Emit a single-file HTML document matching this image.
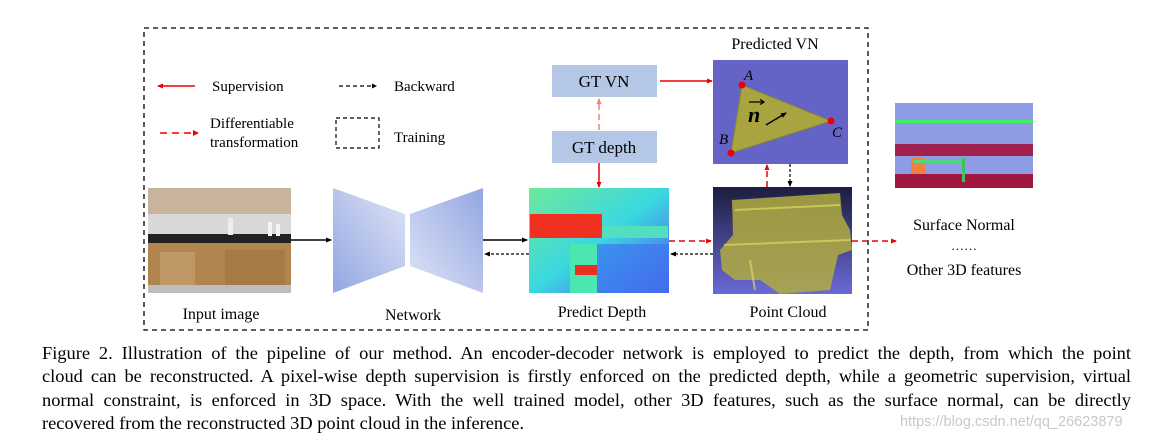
<!DOCTYPE html>
<html><head><meta charset="utf-8"><style>
body{margin:0;width:1154px;height:441px;background:#fff;overflow:hidden;position:relative;font-family:"Liberation Serif",serif;}
.cap{position:absolute;left:42px;width:1089px;font-size:18.4px;line-height:23.3px;color:#000;}
.cap div{text-align:justify;text-align-last:justify;white-space:nowrap;}
.cap div.l{text-align-last:left;}
.wm{position:absolute;left:900px;top:414px;font-family:"Liberation Sans",sans-serif;font-size:14.5px;color:#c8c8c8;}
</style></head><body>
<svg width="1154" height="340" style="position:absolute;left:0;top:0" font-family="Liberation Serif, serif">
<defs>
<marker id="ar" markerWidth="6" markerHeight="6" refX="5" refY="3" orient="auto" markerUnits="userSpaceOnUse"><path d="M0,0.5L6,3L0,5.5z" fill="#e00"/></marker>
<marker id="ab" markerWidth="6" markerHeight="6" refX="5" refY="3" orient="auto" markerUnits="userSpaceOnUse"><path d="M0,0.5L6,3L0,5.5z" fill="#000"/></marker>
<marker id="arl" markerWidth="6" markerHeight="6" refX="5" refY="3" orient="auto" markerUnits="userSpaceOnUse"><path d="M0,0.5L6,3L0,5.5z" fill="#f08080"/></marker>
<linearGradient id="nl" x1="0" y1="1" x2="1" y2="0"><stop offset="0" stop-color="#93a6e2"/><stop offset="1" stop-color="#dfe5f6"/></linearGradient>
<linearGradient id="nr" x1="0" y1="1" x2="1" y2="0"><stop offset="0" stop-color="#dfe5f6"/><stop offset="1" stop-color="#93a6e2"/></linearGradient>
<linearGradient id="dep" x1="0" y1="0" x2="1" y2="1"><stop offset="0" stop-color="#6fe89a"/><stop offset="0.5" stop-color="#3ad8e0"/><stop offset="1" stop-color="#5a4cf0"/></linearGradient>
<linearGradient id="pc" x1="0" y1="0" x2="0" y2="1"><stop offset="0" stop-color="#1c1d3e"/><stop offset="1" stop-color="#6a6ad8"/></linearGradient>
</defs>
<rect x="144" y="28" width="724" height="302" fill="none" stroke="#000" stroke-width="1.3" stroke-dasharray="5,4"/>
<line x1="195" y1="86" x2="158" y2="86" stroke="#e00" stroke-width="1.5" marker-end="url(#ar)"/>
<text x="212" y="91" font-size="15">Supervision</text>
<line x1="339" y1="86" x2="375" y2="86" stroke="#000" stroke-width="1.3" stroke-dasharray="4,3"/>
<path d="M372,83.5L377,86L372,88.5z"/>
<text x="394" y="91" font-size="15">Backward</text>
<line x1="160" y1="133" x2="195" y2="133" stroke="#e00" stroke-width="1.5" stroke-dasharray="7,5"/>
<path d="M193,130L199,133L193,136z" fill="#e00"/>
<text x="210" y="128" font-size="15">Differentiable</text>
<text x="210" y="147" font-size="15">transformation</text>
<rect x="336" y="118" width="43" height="30" fill="none" stroke="#000" stroke-width="1.2" stroke-dasharray="4,3"/>
<text x="394" y="142" font-size="15">Training</text>
<rect x="552" y="65" width="105" height="32" fill="#b4c7e7"/>
<text x="604" y="87" font-size="17" text-anchor="middle">GT VN</text>
<rect x="552" y="131" width="105" height="32" fill="#b4c7e7"/>
<text x="604" y="153" font-size="17" text-anchor="middle">GT depth</text>
<line x1="599" y1="130" x2="599" y2="99" stroke="#f08080" stroke-width="1.5" stroke-dasharray="6,4" marker-end="url(#arl)"/>
<line x1="599" y1="163" x2="599" y2="187" stroke="#e00" stroke-width="1.5" marker-end="url(#ar)"/>
<line x1="660" y1="81" x2="712" y2="81" stroke="#e00" stroke-width="1.5" marker-end="url(#ar)"/>
<text x="775" y="49" font-size="16" text-anchor="middle">Predicted VN</text>
<rect x="713" y="60" width="135" height="104" fill="#6464c6"/>
<polygon points="742,85 831,121 731,153" fill="#a8a440" stroke="#8a8630"/>
<circle cx="742" cy="85" r="3.5" fill="#e00"/><circle cx="831" cy="121" r="3.5" fill="#e00"/><circle cx="731" cy="153" r="3.5" fill="#e00"/>
<text x="744" y="80" font-size="15" font-style="italic">A</text>
<text x="719" y="144" font-size="15" font-style="italic">B</text>
<text x="832" y="137" font-size="15" font-style="italic">C</text>
<text x="748" y="122" font-size="22" font-weight="bold" font-style="italic">n</text>
<path d="M749,102L763,102M760,99.5L764,102L760,104.5" stroke="#000" fill="none" stroke-width="1.3"/>
<line x1="766" y1="125" x2="786" y2="113" stroke="#000" stroke-width="1.5" marker-end="url(#ab)"/>
<line x1="767" y1="187" x2="767" y2="165" stroke="#e00" stroke-width="1.5" stroke-dasharray="6,4" marker-end="url(#ar)"/>
<line x1="790" y1="164" x2="790" y2="186" stroke="#000" stroke-width="1.2" stroke-dasharray="3,2" marker-end="url(#ab)"/>
<rect x="148" y="188" width="143" height="105" fill="#c9b8a0"/>
<rect x="148" y="188" width="143" height="26" fill="#c8b49c"/>
<rect x="148" y="214" width="143" height="20" fill="#d9d8d6"/>
<rect x="148" y="234" width="143" height="9" fill="#222"/>
<rect x="148" y="243" width="143" height="42" fill="#b0854f"/>
<rect x="160" y="252" width="35" height="33" fill="#c09868"/>
<rect x="225" y="250" width="60" height="35" fill="#a67a45"/>
<rect x="148" y="285" width="143" height="8" fill="#bdbdbd"/>
<rect x="228" y="218" width="5" height="17" fill="#eee"/><rect x="268" y="222" width="4" height="14" fill="#f4f4f4"/><rect x="276" y="224" width="4" height="12" fill="#f4f4f4"/>
<polygon points="333,188 405,214 405,266 333,293" fill="url(#nl)"/>
<polygon points="410,214 483,188 483,293 410,266" fill="url(#nr)"/>
<text x="413" y="320" font-size="16" text-anchor="middle">Network</text>
<text x="221" y="319" font-size="16" text-anchor="middle">Input image</text>
<rect x="529" y="188" width="140" height="105" fill="url(#dep)"/>
<rect x="530" y="214" width="72" height="24" fill="#f03020"/>
<rect x="602" y="226" width="66" height="12" fill="#50e0c0"/>
<rect x="570" y="244" width="27" height="49" fill="#4ce6b0"/>
<rect x="575" y="265" width="22" height="10" fill="#e83020"/>
<rect x="597" y="244" width="72" height="49" fill="#3a78f0" opacity="0.7"/>
<text x="602" y="317" font-size="16" text-anchor="middle">Predict Depth</text>
<rect x="713" y="187" width="139" height="107" fill="url(#pc)"/>
<path d="M732,200 L840,193 L842,215 L850,230 L852,250 L838,255 L830,290 L780,294 L760,280 L735,280 L722,270 L720,250 L733,235 Z" fill="#b0ac40" opacity="0.85"/>
<path d="M735,210 L840,205 M724,245 L850,240 M750,260 L755,290" stroke="#dcd860" stroke-width="2" opacity="0.7"/>
<text x="788" y="317" font-size="16" text-anchor="middle">Point Cloud</text>
<rect x="895" y="103" width="138" height="85" fill="#8e9ce6"/>
<rect x="895" y="120" width="138" height="3" fill="#40f060"/>
<rect x="895" y="144" width="138" height="12" fill="#a02050"/>
<rect x="895" y="174" width="138" height="14" fill="#a01840"/>
<rect x="911" y="158" width="14" height="16" fill="#f08040"/>
<rect x="913" y="160" width="52" height="3" fill="#50d880"/>
<rect x="962" y="158" width="3" height="24" fill="#40c060"/>
<text x="964" y="230" font-size="16" text-anchor="middle">Surface Normal</text>
<text x="964" y="250" font-size="13" text-anchor="middle">……</text>
<text x="964" y="275" font-size="16" text-anchor="middle">Other 3D features</text>
<line x1="291" y1="240" x2="331" y2="240" stroke="#000" stroke-width="1.5" marker-end="url(#ab)"/>
<line x1="483" y1="240" x2="527" y2="240" stroke="#000" stroke-width="1.5" marker-end="url(#ab)"/>
<line x1="529" y1="254" x2="485" y2="254" stroke="#000" stroke-width="1.2" stroke-dasharray="3,2" marker-end="url(#ab)"/>
<line x1="669" y1="241" x2="711" y2="241" stroke="#e00" stroke-width="1.5" stroke-dasharray="6,4" marker-end="url(#ar)"/>
<line x1="713" y1="254" x2="671" y2="254" stroke="#000" stroke-width="1.2" stroke-dasharray="3,2" marker-end="url(#ab)"/>
<line x1="852" y1="241" x2="896" y2="241" stroke="#e00" stroke-width="1.5" stroke-dasharray="6,4" marker-end="url(#ar)"/>
</svg>
<div class="cap" style="top:342px">
<div>Figure 2. Illustration of the pipeline of our method. An encoder-decoder network is employed to predict the depth, from which the point</div>
<div>cloud can be reconstructed. A pixel-wise depth supervision is firstly enforced on the predicted depth, while a geometric supervision, virtual</div>
<div>normal constraint, is enforced in 3D space. With the well trained model, other 3D features, such as the surface normal, can be directly</div>
<div class="l">recovered from the reconstructed 3D point cloud in the inference.</div>
</div>
<div class="wm">https://blog.csdn.net/qq_26623879</div>
</body></html>
